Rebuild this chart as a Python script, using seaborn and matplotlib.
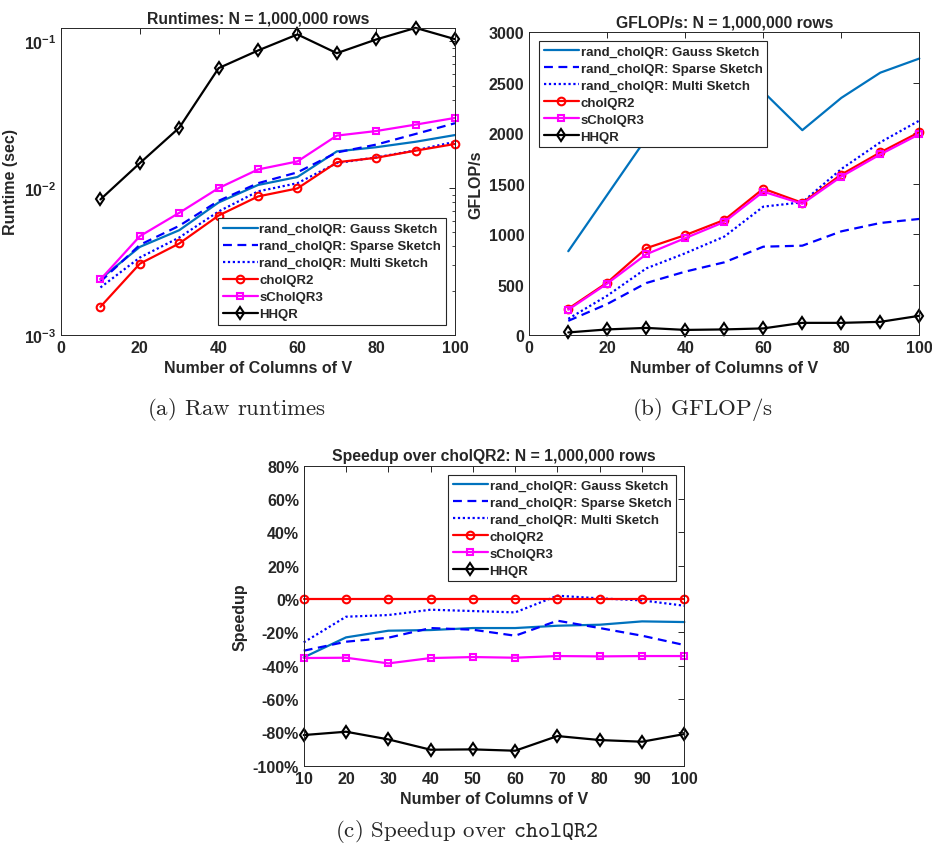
import numpy as np
import pandas as pd
import matplotlib
matplotlib.use("Agg")
import matplotlib.pyplot as plt
import matplotlib.ticker as mticker
import seaborn as sns

# -----------------------------
# Data
# -----------------------------
ncols = [10, 20, 30, 40, 50, 60, 70, 80, 90, 100]

labels = ["rand_cholQR: Gauss Sketch", "rand_cholQR: Sparse Sketch",
          "rand_cholQR: Multi Sketch", "cholQR2", "sCholQR3", "HHQR"]

# runtimes (sec)
rt_gauss = [0.00240, 0.00397, 0.00516, 0.00798, 0.0105, 0.0119, 0.0178, 0.0190, 0.0207, 0.0230]
rt_sparse = [0.00230, 0.00410, 0.00553, 0.00819, 0.0108, 0.0128, 0.0175, 0.0198, 0.0234, 0.0277]
rt_multi = [0.00210, 0.00336, 0.00460, 0.00693, 0.0095, 0.0108, 0.0148, 0.0162, 0.0181, 0.0207]
rt_chol2 = [0.00155, 0.00305, 0.00419, 0.00650, 0.00877, 0.00995, 0.0150, 0.0161, 0.0180, 0.0200]
rt_schol3 = [0.00238, 0.00470, 0.00678, 0.0100, 0.0134, 0.0152, 0.0228, 0.0245, 0.0271, 0.0301]
rt_hhqr = [0.00837, 0.0148, 0.0258, 0.0658, 0.0868, 0.1117, 0.0832, 0.1032, 0.1238, 0.1037]

# GFLOP/s
gf_gauss = [830, 1390, 1950, 2150, 2300, 2410, 2030, 2350, 2600, 2740]
gf_sparse = [140, 307, 515, 628, 720, 875, 885, 1027, 1110, 1150]
gf_multi = [160, 390, 660, 810, 975, 1272, 1315, 1645, 1910, 2125]
gf_chol2 = [260, 520, 860, 990, 1140, 1450, 1310, 1590, 1810, 2010]
gf_schol3 = [250, 510, 800, 960, 1120, 1420, 1300, 1570, 1790, 1990]
gf_hhqr = [25, 55, 70, 50, 55, 65, 120, 120, 130, 190]

# speedup over cholQR2 (%)
sp_gauss = [-35, -23, -19, -18.6, -17.4, -17.4, -16, -15.4, -13.4, -13.8]
sp_sparse = [-31, -25.6, -23.2, -17.4, -18.4, -22, -13, -17.4, -22, -27.6]
sp_multi = [-26, -10.6, -9.6, -6.4, -7.2, -8, 2, 0.4, -0.8, -4]
sp_chol2 = [0, 0, 0, 0, 0, 0, 0, 0, 0, 0]
sp_schol3 = [-35.4, -35.2, -38.6, -35.4, -34.8, -35.2, -34.2, -34.4, -34.2, -34.2]
sp_hhqr = [-81.6, -79.6, -84.2, -90.4, -90.2, -91, -82.2, -84.6, -85.6, -81]

# -----------------------------
# Style
# -----------------------------
sns.set_style("white")
dark = "#262626"
plt.rcParams.update({
    "font.family": ["Liberation Sans", "DejaVu Sans"],
    "font.weight": "bold",
    "axes.labelweight": "bold",
    "axes.titleweight": "bold",
    "axes.edgecolor": dark,
    "axes.labelcolor": dark,
    "xtick.color": dark,
    "ytick.color": dark,
    "text.color": dark,
    "axes.linewidth": 0.7,
    "xtick.direction": "in",
    "ytick.direction": "in",
    "xtick.top": True,
    "ytick.right": True,
    "xtick.major.size": 4,
    "ytick.major.size": 4,
    "ytick.minor.size": 2,
    "mathtext.fontset": "custom",
    "mathtext.rm": "cmr10",
    "mathtext.tt": "cmtt10",
    "mathtext.bf": "Liberation Sans:bold",
    "mathtext.default": "bf",
})

colors = ["#0072BD", "#0000FF", "#0000FF", "#FF0000", "#FF00FF", "#000000"]
linestyles = ["-", (0, (4, 2.5)), (0, (1, 1.2)), "-", "-", "-"]
markers = ["None", "None", "None", "o", "s", "d"]
msizes = [0, 0, 0, 5.5, 5, 6.5]

fig = plt.figure(figsize=(9.32, 8.54), dpi=100)
ax_a = fig.add_axes([0.0655, 0.6069, 0.4227, 0.3588])
ax_b = fig.add_axes([0.5679, 0.6066, 0.4185, 0.3544])
ax_c = fig.add_axes([0.3259, 0.1022, 0.4084, 0.3513])


def draw(ax, series):
    for i, y in enumerate(series):
        sns.lineplot(x=ncols, y=y, ax=ax, color=colors[i], linewidth=1.6,
                     legend=False)
        ln = ax.lines[-1]
        ln.set_linestyle(linestyles[i])
        ln.set_marker(markers[i])
        ln.set_markersize(msizes[i])
        ln.set_markerfacecolor("none")
        ln.set_markeredgecolor(colors[i])
        ln.set_markeredgewidth(1.5)
        ln.set_clip_on(False)
        ln.set_label(labels[i])
    ax.set_xlabel("Number of Columns of V", fontsize=11.5)
    ax.tick_params(labelsize=11.5, width=0.7)
    for s in ax.spines.values():
        s.set_visible(True)


def style_legend(ax, **kw):
    leg = ax.legend(fontsize=9.5, frameon=True, fancybox=False, framealpha=1,
                    edgecolor=dark, handlelength=2.7, handletextpad=0.1,
                    labelspacing=0.36, borderpad=0.35, borderaxespad=0, **kw)
    leg.get_frame().set_linewidth(0.8)
    leg.set_zorder(5)


# (a) runtimes
draw(ax_a, [rt_gauss, rt_sparse, rt_multi, rt_chol2, rt_schol3, rt_hhqr])
ax_a.set_yscale("log")
ax_a.set_xlim(0, 100)
ax_a.set_ylim(1e-3, 0.123)
ax_a.set_xticks([0, 20, 40, 60, 80, 100])
ax_a.set_ylabel("Runtime (sec)", fontsize=11.5)
ax_a.set_title("Runtimes: N = 1,000,000 rows", fontsize=11.3, pad=4)
style_legend(ax_a, loc="lower right", bbox_to_anchor=(0.977, 0.032))

# (b) GFLOP/s
draw(ax_b, [gf_gauss, gf_sparse, gf_multi, gf_chol2, gf_schol3, gf_hhqr])
ax_b.set_xlim(0, 100)
ax_b.set_ylim(0, 3000)
ax_b.set_xticks([0, 20, 40, 60, 80, 100])
ax_b.set_yticks(np.arange(0, 3001, 500))
ax_b.set_ylabel("GFLOP/s", fontsize=11.5)
ax_b.set_title("GFLOP/s: N = 1,000,000 rows", fontsize=11.3, pad=4)
style_legend(ax_b, loc="upper left", bbox_to_anchor=(0.025, 0.971))

# (c) speedup
draw(ax_c, [sp_gauss, sp_sparse, sp_multi, sp_chol2, sp_schol3, sp_hhqr])
ax_c.set_xlim(10, 100)
ax_c.set_ylim(-100, 80)
ax_c.set_xticks(ncols)
ax_c.set_yticks(np.arange(-100, 81, 20))
ax_c.yaxis.set_major_formatter(mticker.FuncFormatter(lambda v, p: f"{v:.0f}%"))
ax_c.set_ylabel("Speedup", fontsize=11.5)
ax_c.set_title("Speedup over cholQR2: N = 1,000,000 rows", fontsize=11.3, pad=4)
style_legend(ax_c, loc="upper right", bbox_to_anchor=(0.978, 0.969))

# captions
fig.text(237 / 932, 1 - 410 / 854, r"$\mathrm{(a)\ Raw\ runtimes}$",
         ha="center", va="center", fontsize=16.5)
fig.text(702 / 932, 1 - 410 / 854, r"$\mathrm{(b)\ GFLOP/s}$",
         ha="center", va="center", fontsize=16.5)
fig.text(467 / 932, 1 - 832 / 854, r"$\mathrm{(c)\ Speedup\ over\ }\mathtt{cholQR2}$",
         ha="center", va="center", fontsize=16.5)

fig.savefig("out.png", dpi=100, facecolor="white")
